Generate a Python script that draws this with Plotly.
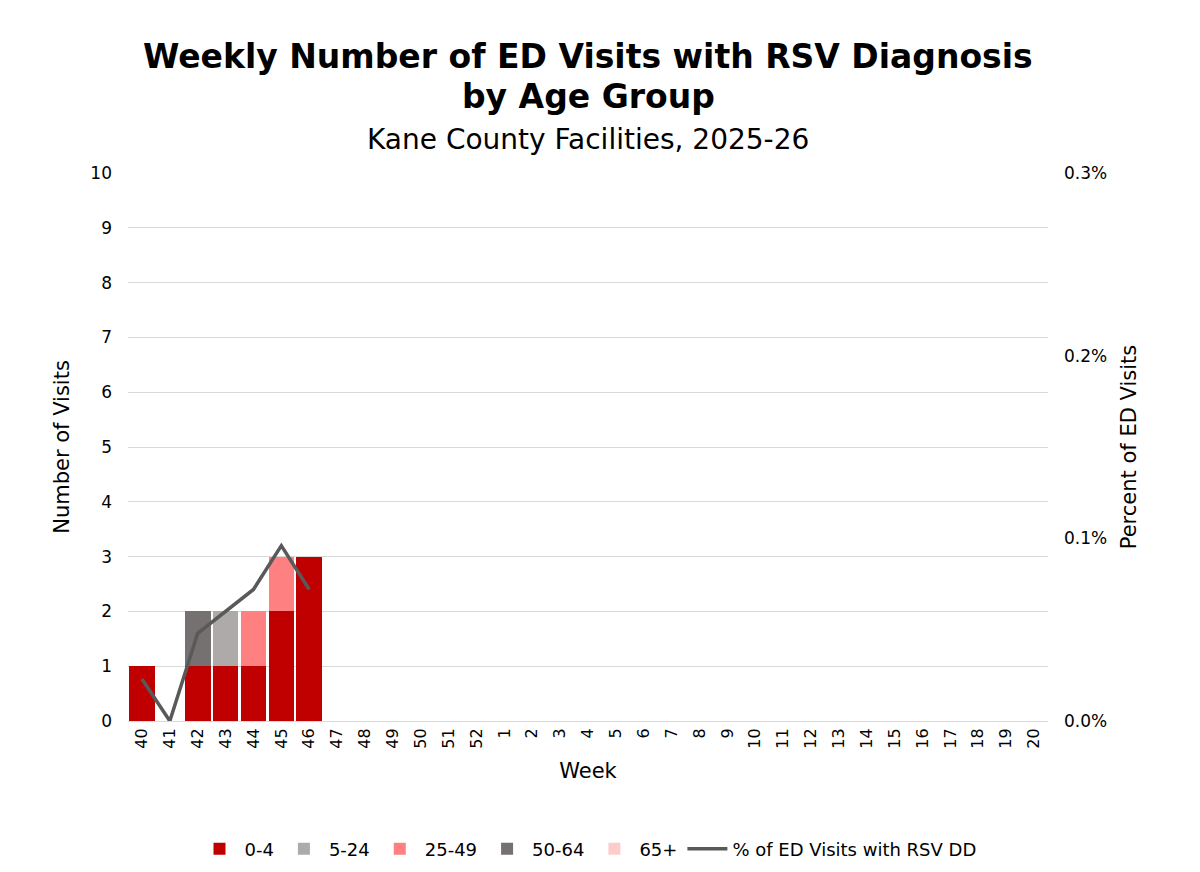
import plotly.graph_objects as go

weeks = [str(w) for w in list(range(40, 53)) + list(range(1, 21))]
n = len(weeks)
a0_4 = [1, 0, 1, 1, 1, 2, 3] + [None]*(n-7)
a5_24 = [0, 0, 0, 1, 0, 0, 0] + [None]*(n-7)
a25_49 = [0, 0, 0, 0, 1, 1, 0] + [None]*(n-7)
a50_64 = [0, 0, 1, 0, 0, 0, 0] + [None]*(n-7)
a65 = [0, 0, 0, 0, 0, 0, 0] + [None]*(n-7)
pct = [0.023, 0.0, 0.048, 0.060, 0.072, 0.096, 0.072] + [None]*(n-7)

fig = go.Figure()
for name, vals, col in [("0-4", a0_4, "#C00000"), ("5-24", a5_24, "#AEAAAA"),
                        ("25-49", a25_49, "#FF8080"), ("50-64", a50_64, "#767171"),
                        ("65+", a65, "#FFCCCC")]:
    fig.add_trace(go.Bar(x=weeks, y=vals, name=name, marker_color=col, marker_line_width=0))
fig.add_trace(go.Scatter(x=weeks, y=pct, name="% of ED Visits with RSV DD", yaxis="y2",
                         mode="lines", line=dict(color="#595959", width=3.5)))

fig.add_annotation(text="<b>Weekly Number of ED Visits with RSV Diagnosis</b>", xref="paper", yref="paper",
                   x=0.5, y=1.0, yshift=138, showarrow=False, font=dict(size=33))
fig.add_annotation(text="<b>by Age Group</b>", xref="paper", yref="paper",
                   x=0.5, y=1.0, yshift=98, showarrow=False, font=dict(size=33))
fig.add_annotation(text="Kane County Facilities, 2025-26", xref="paper", yref="paper",
                   x=0.5, y=1.0, yshift=52, showarrow=False, font=dict(size=28))

fig.update_layout(
    width=1200, height=872, barmode="stack", bargap=0.08,
    paper_bgcolor="white", plot_bgcolor="white",
    font=dict(family="DejaVu Sans", size=17, color="#000"),
    margin=dict(l=120, r=160, t=165, b=145),
    xaxis=dict(title=dict(text="Week", font=dict(size=21)), tickangle=-90, type="category",
               showline=True, linecolor="#d9d9d9", tickfont=dict(size=16)),
    yaxis=dict(title=dict(text="Number of Visits", font=dict(size=21)), range=[0, 10], dtick=1,
               gridcolor="#d9d9d9", zeroline=False, ticklabelstandoff=15),
    yaxis2=dict(title=dict(text="Percent of ED Visits", font=dict(size=21)), overlaying="y", side="right",
                range=[0, 0.3], dtick=0.1, ticksuffix="%", tickformat=".1f", showgrid=False, zeroline=False,
                ticklabelstandoff=15),
    legend=dict(orientation="h", x=0.5, xanchor="center", y=-0.2, yanchor="top",
                font=dict(size=18), traceorder="normal", itemwidth=40),
)
fig.write_html("out.html")
